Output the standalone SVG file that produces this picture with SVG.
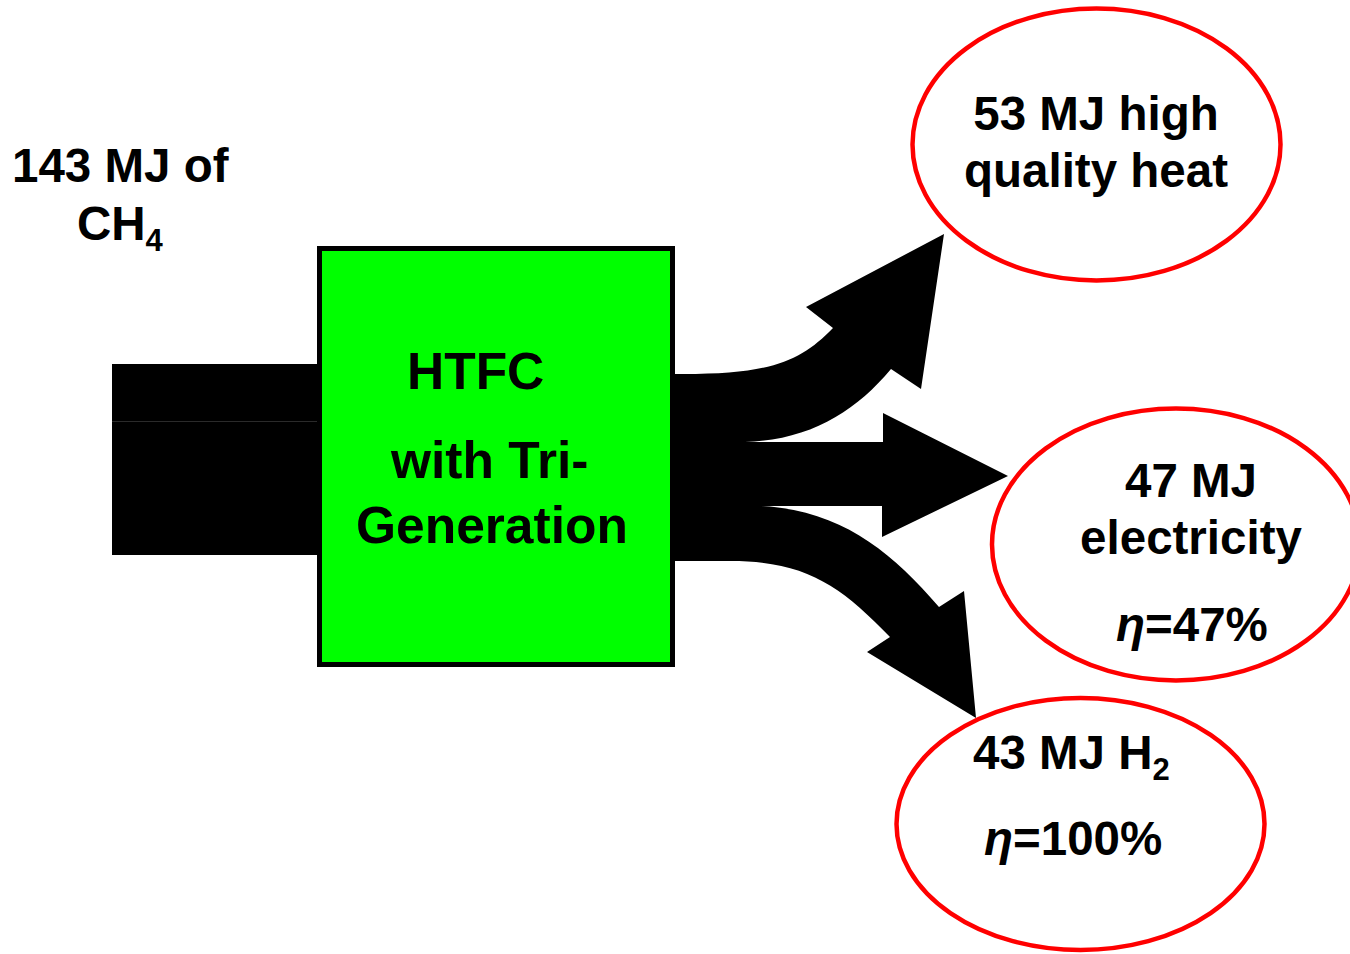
<svg xmlns="http://www.w3.org/2000/svg" width="1350" height="954" viewBox="0 0 1350 954">
<style>
.t{font-family:"Liberation Sans",Arial,sans-serif;font-weight:bold;font-size:47.5px;fill:#000}
.b{font-size:51.5px}
.e{fill:#fff;stroke:#ff0000;stroke-width:4.5}
</style>
<rect width="1350" height="954" fill="#fff"/>
<g id="input-label">
<text class="t" x="12" y="182">143 MJ of</text>
<text class="t" x="77" y="240">CH<tspan font-size="31" dy="11">4</tspan></text>
</g>
<g id="heat">
<ellipse class="e" cx="1096.5" cy="144.5" rx="184" ry="136"/>
<text class="t" x="1096" y="130" text-anchor="middle">53 MJ high</text>
<text class="t" x="1096" y="187" text-anchor="middle">quality heat</text>
</g>
<g id="electricity">
<ellipse class="e" cx="1176" cy="544.5" rx="184" ry="136"/>
<text class="t" x="1191" y="497" text-anchor="middle">47 MJ</text>
<text class="t" x="1191" y="554" text-anchor="middle">electricity</text>
<text class="t" x="1116" y="641"><tspan font-style="italic">η</tspan>=47%</text>
</g>
<g id="hydrogen">
<ellipse class="e" cx="1080.5" cy="824" rx="184" ry="126"/>
<text class="t" x="973" y="769">43 MJ H<tspan font-size="31" dy="11">2</tspan></text>
<text class="t" x="984" y="855"><tspan font-style="italic">η</tspan>=100%</text>
</g>
<g id="connectors">
<rect x="112" y="364" width="206" height="191" fill="#000"/>
<line x1="112" y1="421.5" x2="317" y2="421.5" stroke="#2a2a2a" stroke-width="1"/>
<path fill="#000" d="M 673 374 C 770 375 800 362 833 328 L 806 307 L 944 234 L 921 389 L 891 369 C 855 412 810 440 745 442 L 883 442 L 883 413 L 1008 476 L 882 537 L 882 506 L 760 506 C 840 510 890 550 939 607 L 964 591 L 976 718 L 867 652 L 890 637 C 840 585 805 561 730 561 L 673 561 Z"/>
</g>
<g id="htfc">
<rect x="319.5" y="248.5" width="353" height="416" fill="#00ff00" stroke="#000" stroke-width="5"/>
<text class="t b" x="407" y="389">HTFC</text>
<text class="t b" x="391" y="478">with Tri-</text>
<text class="t b" x="356" y="543">Generation</text>
</g>
</svg>
